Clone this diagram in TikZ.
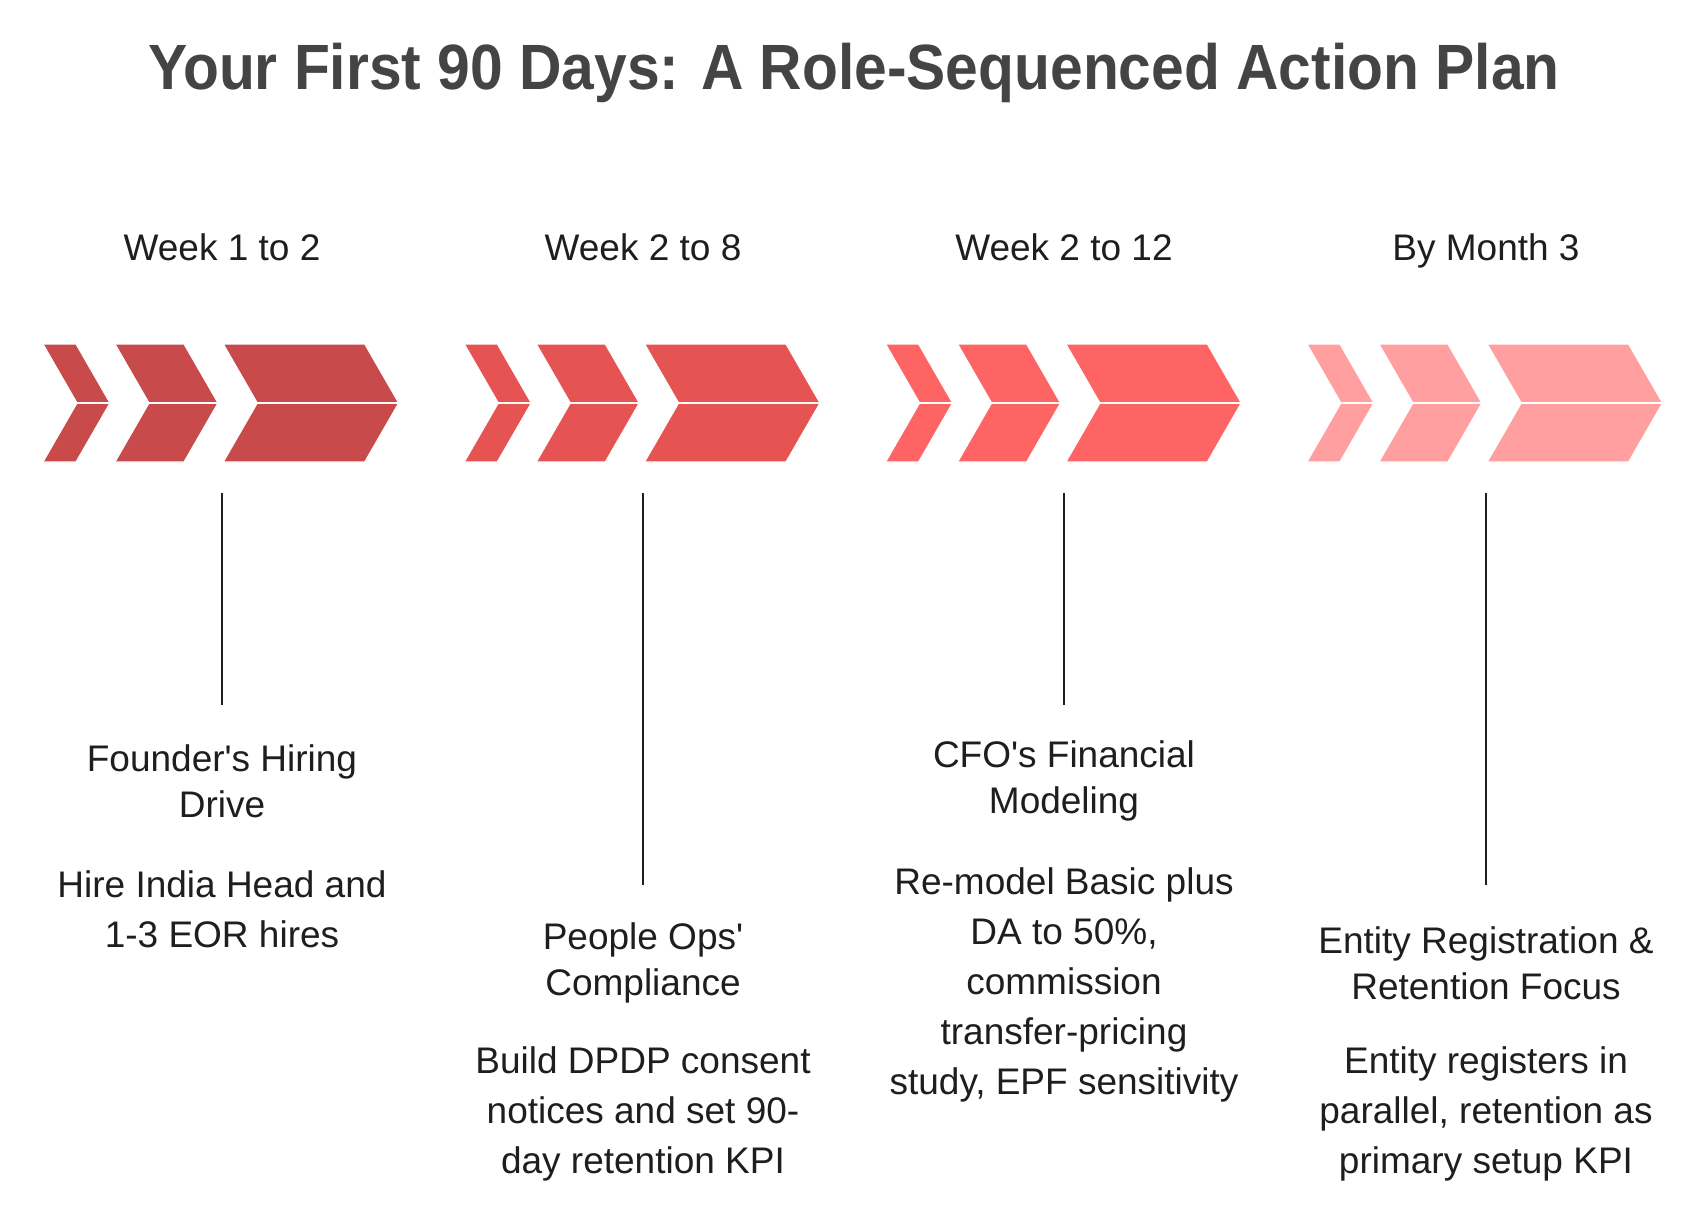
\documentclass[tikz,border=0pt]{standalone}
\usepackage{fontspec}
\setmainfont{Liberation Sans}[Ligatures=TeXOff]
\definecolor{gA}{HTML}{C84A4A}
\definecolor{gB}{HTML}{E65353}
\definecolor{gC}{HTML}{FF6464}
\definecolor{gD}{HTML}{FF9F9F}
\definecolor{titlec}{HTML}{444444}
\definecolor{bodyc}{HTML}{1E1E1E}
\tikzset{
  half/.style={draw=white, line width=1.1pt, line join=miter},
  body/.style={text=bodyc, align=center, inner sep=0pt, font=\fontsize{37}{50}\selectfont},
  weeklbl/.style={text=bodyc, inner sep=0pt, anchor=base, font=\fontsize{37}{44}\selectfont},
  vline/.style={draw=bodyc, line width=1.6pt}
}
\newcommand{\chevpiece}[4]{% x0, width, color
  \fill[#3] (#1,344) -- ({#1+#2},344) -- ({#1+#2+34},403) -- ({#1+34},403) -- cycle;
  \fill[#3] ({#1+34},403) -- ({#1+#2+34},403) -- ({#1+#2},462) -- (#1,462) -- cycle;
  \draw[half] (#1,344) -- ({#1+#2},344) -- ({#1+#2+34},403) -- ({#1+#2},462) -- (#1,462) -- ({#1+34},403) -- cycle;
  \draw[half] ({#1+34},403) -- ({#1+#2+34},403);
}
\newcommand{\chevgroup}[2]{%
  \chevpiece{#1}{33}{#2}{}
  \chevpiece{#1+72}{69}{#2}{}
  \chevpiece{#1+180.3}{141.4}{#2}{}
}
\begin{document}
\begin{tikzpicture}[x=1pt,y=-1pt]
\useasboundingbox[fill=white] (0,0) rectangle (1708,1225);

\node[text=titlec, inner sep=0pt, font=\fontsize{64}{70}\selectfont\bfseries] (title) at (854,73) {\scalebox{0.918}[1]{Your First 90 Days: A Role-Sequenced Action Plan}};

\chevgroup{43}{gA}
\chevgroup{464.3}{gB}
\chevgroup{885.6}{gC}
\chevgroup{1306.9}{gD}

\node[weeklbl] (w1) at (222,260) {Week 1 to 2};
\node[weeklbl] (w2) at (643,260) {Week 2 to 8};
\node[weeklbl] (w3) at (1064,260) {Week 2 to 12};
\node[weeklbl] (w4) at (1486,260) {By Month 3};

\coordinate (l1a) at (222,493); \coordinate (l1b) at (222,705);
\coordinate (l2a) at (643,493); \coordinate (l2b) at (643,885);
\coordinate (l3a) at (1064,493); \coordinate (l3b) at (1064,705);
\coordinate (l4a) at (1486,493); \coordinate (l4b) at (1486,885);
\draw[vline] (l1a) -- (l1b);
\draw[vline] (l2a) -- (l2b);
\draw[vline] (l3a) -- (l3b);
\draw[vline] (l4a) -- (l4b);

\node[body] (t1) at (222,781) {Founder's Hiring\\[-4pt]Drive};
\node[body] (d1) at (222,909) {Hire India Head and\\1-3 EOR hires};

\node[body] (t2) at (643,963) {People Ops'\\[-4pt]Compliance};
\node[body] (d2) at (643,1114) {Build DPDP consent\\notices and set 90-\\day retention KPI};

\node[body] (t3) at (1064,781) {CFO's Financial\\[-4pt]Modeling};
\node[body] (d3) at (1064,985) {Re-model Basic plus\\DA to 50\%,\\commission\\transfer-pricing\\study, EPF sensitivity};

\node[body] (t4) at (1486,963) {Entity Registration \&\\[-4pt]Retention Focus};
\node[body] (d4) at (1486,1114) {Entity registers in\\parallel, retention as\\primary setup KPI};
\end{tikzpicture}
\end{document}
